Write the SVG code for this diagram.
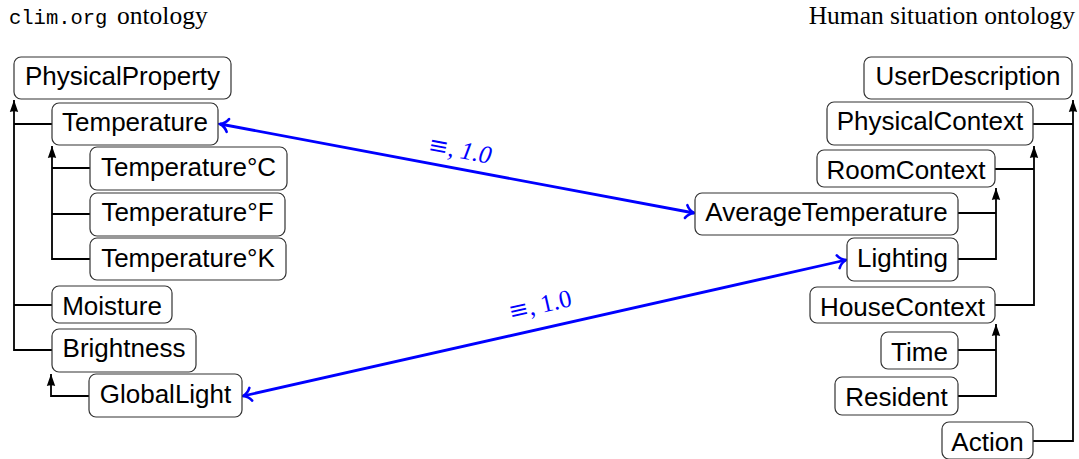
<svg xmlns="http://www.w3.org/2000/svg" width="1079" height="459" viewBox="0 0 1079 459">
<style>
.box{fill:#fff;stroke:#333;stroke-width:1.2}
.lbl{font-family:"Liberation Sans",Arial,sans-serif;font-size:26px;fill:#000;text-anchor:middle}
.con{fill:none;stroke:#000;stroke-width:1.8}
.blue{fill:none;stroke:#0000ff;stroke-width:2.8}
.eq{font-family:"Liberation Serif","DejaVu Serif",serif;font-size:25px;fill:#0000ff;text-anchor:middle}
.sym{font-family:"DejaVu Serif",serif;font-size:24px}
.title{font-family:"Liberation Serif","Times New Roman",serif;font-size:25.5px;fill:#000}
.mono{font-family:"Liberation Mono","Courier New",monospace;font-size:20.5px}
</style>
<defs>
<marker id="tri" viewBox="-13 -6 14 12" refX="0" refY="0" markerWidth="14" markerHeight="12" markerUnits="userSpaceOnUse" orient="auto" overflow="visible">
<path d="M0,0 L-12,-4.2 Q-10.5,0 -12,4.2 Z" fill="#000"/>
</marker>
<marker id="to" viewBox="-10 -8 12 16" refX="0" refY="0" markerWidth="12" markerHeight="16" markerUnits="userSpaceOnUse" orient="auto-start-reverse" overflow="visible">
<path d="M-8,-6.5 C-6,-3 -2.5,-0.8 0,0 C-2.5,0.8 -6,3 -8,6.5" fill="none" stroke="#0000ff" stroke-width="2.6" stroke-linecap="round"/>
</marker>
</defs>

<g id="titles">
<text class="title" x="9" y="24"><tspan class="mono">clim.org</tspan><tspan x="117">ontology</tspan></text>
<text class="title" x="1075" y="24" text-anchor="end">Human situation ontology</text>
</g>

<g id="connectors">
<path class="con" d="M52,350 H14 V100" marker-end="url(#tri)"/>
<path class="con" d="M52,305 H14"/>
<path class="con" d="M52,124 H14"/>
<path class="con" d="M90,259 H52 V146" marker-end="url(#tri)"/>
<path class="con" d="M90,214 H52"/>
<path class="con" d="M90,168 H52"/>
<path class="con" d="M89,396 H51 V374" marker-end="url(#tri)"/>
<path class="con" d="M1033,441 H1073 V100" marker-end="url(#tri)"/>
<path class="con" d="M1033,124 H1073"/>
<path class="con" d="M995,305 H1034 V146" marker-end="url(#tri)"/>
<path class="con" d="M995,169 H1034"/>
<path class="con" d="M958,259 H996 V188" marker-end="url(#tri)"/>
<path class="con" d="M958,213 H996"/>
<path class="con" d="M958,396 H996 V324" marker-end="url(#tri)"/>
<path class="con" d="M958,350 H996"/>
<path class="blue" d="M220,124 L694,213" marker-start="url(#to)" marker-end="url(#to)"/>
<path class="blue" d="M243,396 L846,260" marker-start="url(#to)" marker-end="url(#to)"/>
<text class="eq" transform="translate(460,150) rotate(10.6)" y="8"><tspan class="sym">≡</tspan>, <tspan font-style="italic">1.0</tspan></text>
<text class="eq" transform="translate(540,305) rotate(-12.7)" y="8"><tspan class="sym">≡</tspan>, 1.0</text>
</g>

<g id="PhysicalProperty"><rect class="box" x="14" y="57" width="217" height="42" rx="7"/><text class="lbl" x="122.5" y="85">PhysicalProperty</text></g>
<g id="Temperature"><rect class="box" x="52" y="103" width="166" height="42" rx="7"/><text class="lbl" x="135" y="131">Temperature</text></g>
<g id="TemperatureC"><rect class="box" x="90" y="147" width="197" height="43" rx="7"/><text class="lbl" x="188.5" y="175.5">Temperature°C</text></g>
<g id="TemperatureF"><rect class="box" x="90" y="193" width="195" height="43" rx="7"/><text class="lbl" x="187.5" y="221">Temperature°F</text></g>
<g id="TemperatureK"><rect class="box" x="90" y="238" width="196" height="42" rx="7"/><text class="lbl" x="188" y="266.5">Temperature°K</text></g>
<g id="Moisture"><rect class="box" x="52" y="286" width="120" height="37" rx="7"/><text class="lbl" x="112" y="315">Moisture</text></g>
<g id="Brightness"><rect class="box" x="52" y="329" width="144" height="43" rx="7"/><text class="lbl" x="124" y="357">Brightness</text></g>
<g id="GlobalLight"><rect class="box" x="89" y="374" width="153" height="43" rx="7"/><text class="lbl" x="165.5" y="402.5">GlobalLight</text></g>

<g id="UserDescription"><rect class="box" x="864" y="57" width="208" height="42" rx="7"/><text class="lbl" x="968" y="85">UserDescription</text></g>
<g id="PhysicalContext"><rect class="box" x="827" y="102" width="206" height="43" rx="7"/><text class="lbl" x="930" y="130">PhysicalContext</text></g>
<g id="RoomContext"><rect class="box" x="817" y="150" width="178" height="37" rx="7"/><text class="lbl" x="906" y="178.5">RoomContext</text></g>
<g id="AverageTemperature"><rect class="box" x="695" y="193" width="263" height="42" rx="7"/><text class="lbl" x="826.5" y="221">AverageTemperature</text></g>
<g id="Lighting"><rect class="box" x="847" y="238" width="111" height="43" rx="7"/><text class="lbl" x="902.5" y="266.5">Lighting</text></g>
<g id="HouseContext"><rect class="box" x="810" y="287" width="185" height="36" rx="7"/><text class="lbl" x="902.5" y="315.5">HouseContext</text></g>
<g id="Time"><rect class="box" x="881" y="332" width="77" height="37" rx="7"/><text class="lbl" x="919.5" y="360.5">Time</text></g>
<g id="Resident"><rect class="box" x="835" y="377" width="123" height="38" rx="7"/><text class="lbl" x="896.5" y="405.5">Resident</text></g>
<g id="Action"><rect class="box" x="942" y="422" width="91" height="37" rx="7"/><text class="lbl" x="987.5" y="450.5">Action</text></g>
</svg>
